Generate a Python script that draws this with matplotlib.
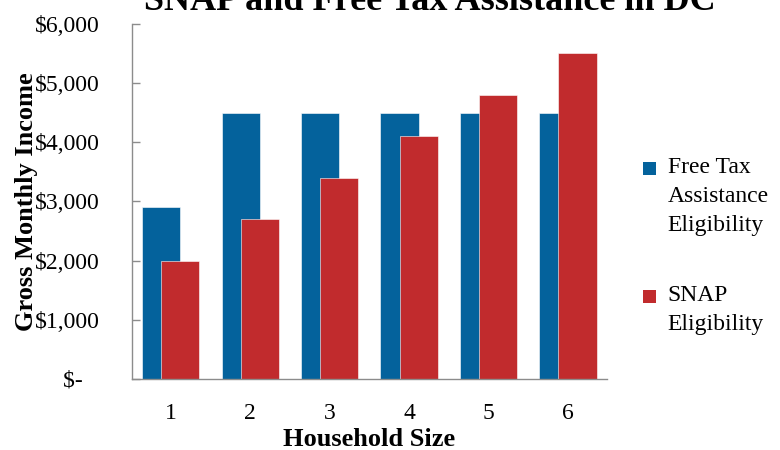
import numpy as np
import matplotlib
matplotlib.use("Agg")
import matplotlib.pyplot as plt
from matplotlib.patches import Rectangle
from matplotlib.ticker import FuncFormatter

household_size = ["1", "2", "3", "4", "5", "6"]
free_tax = [2900, 4500, 4500, 4500, 4500, 4500]
snap = [2000, 2700, 3400, 4100, 4800, 5500]
series_names = ["Free Tax\nAssistance\nEligibility", "SNAP\nEligibility"]

blue = "#04629C"
red = "#C12B2D"

plt.rcParams["font.family"] = ["Liberation Serif", "DejaVu Serif"]

fig = plt.figure(figsize=(7.8, 4.5), dpi=100)
ax = fig.add_axes([0.169, 0.158, 0.609, 0.789])

x = np.arange(1, len(household_size) + 1)
width = 0.48
ax.bar(x - 0.12, free_tax, width, color=blue, edgecolor="white", linewidth=0.4)
ax.bar(x + 0.12, snap, width, color=red, edgecolor="white", linewidth=0.4)

ax.set_xlim(0.51, 6.49)
ax.set_ylim(0, 6000)
ax.set_yticks(range(0, 6001, 1000))


def money(v, pos):
    if v == 0:
        return "$-   "
    return "${:,.0f}".format(v)


ax.yaxis.set_major_formatter(FuncFormatter(money))
ax.set_xticks(x)
ax.set_xticklabels(household_size)

for side in ["top", "right"]:
    ax.spines[side].set_visible(False)
for side in ["left", "bottom"]:
    ax.spines[side].set_color("#8c8c8c")
    ax.spines[side].set_linewidth(1.0)

ax.tick_params(axis="y", direction="in", length=6, width=1, color="#8c8c8c",
               pad=23, labelsize=17)
ax.tick_params(axis="x", length=0, pad=17, labelsize=17)

ax.set_xlabel("Household Size", fontsize=19, fontweight="bold")
ax.xaxis.set_label_coords(0.5, -0.138)
ax.set_ylabel("Gross Monthly Income", fontsize=19, fontweight="bold")
ax.yaxis.set_label_coords(-0.198, 0.5)

fig.text(0.551, 0.978, "SNAP and Free Tax Assistance in DC", ha="center",
         va="baseline", fontsize=26, fontweight="bold")

# legend, drawn by hand so the square sits on the first line
legend_colors = [blue, red]
legend_tops = [0.651, 0.366]
for name, col, top in zip(series_names, legend_colors, legend_tops):
    fig.add_artist(Rectangle((0.824, top - 0.040), 0.0167, 0.0289,
                             transform=fig.transFigure, facecolor=col,
                             edgecolor="none"))
    fig.text(0.856, top, name, ha="left", va="top", fontsize=17,
             linespacing=1.5)

fig.savefig("out.png", dpi=100)
